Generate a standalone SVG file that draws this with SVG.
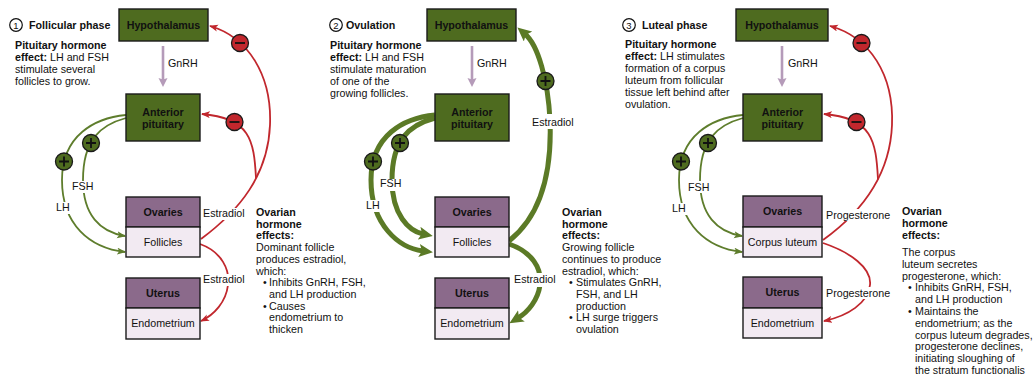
<svg xmlns="http://www.w3.org/2000/svg" width="1035" height="379" viewBox="0 0 1035 379">
<defs>
<style>
text{font-family:"Liberation Sans",Arial,Helvetica,sans-serif;font-size:10.7px;fill:#111}
.b{font-weight:bold}
.c{text-anchor:middle}
.hyp{fill:#4e6b1f;stroke:#1a1a1a;stroke-width:1.4}
.ovh{fill:#8b6a8b;stroke:#1a1a1a;stroke-width:1.4}
.ovl{fill:#f2eaf2;stroke:#1a1a1a;stroke-width:1.4}
.red{fill:none;stroke:#c1272d;stroke-width:1.8;marker-end:url(#ar)}
.redn{fill:none;stroke:#c1272d;stroke-width:1.8}
.grn{fill:none;stroke:#5e7d2c;stroke-width:1.8;marker-end:url(#ag)}
.gth{fill:none;stroke:#5b7a26;stroke-width:5;marker-end:url(#agt)}
.gnrh{stroke:#b59bb9;stroke-width:2.6;marker-end:url(#ap)}
.plus{fill:#4e6b1f;stroke:#1a1a1a;stroke-width:1.3}
.minus{fill:#c1272d;stroke:#1a1a1a;stroke-width:1.3}
.sg{stroke:#111;stroke-width:1.8}
.bg{fill:#fff}
.num{fill:#fff;stroke:#111;stroke-width:1.2}
</style>
<marker id="ar" markerUnits="userSpaceOnUse" markerWidth="10" markerHeight="8" refX="8" refY="3.5" orient="auto"><path d="M0,0 L9,3.5 L0,7 L2.2,3.5 z" fill="#c1272d"/></marker>
<marker id="ag" markerUnits="userSpaceOnUse" markerWidth="10" markerHeight="8" refX="8" refY="3.5" orient="auto"><path d="M0,0 L9,3.5 L0,7 L2.2,3.5 z" fill="#5e7d2c"/></marker>
<marker id="agt" markerUnits="userSpaceOnUse" markerWidth="16" markerHeight="14" refX="4" refY="6.5" orient="auto"><path d="M0,0 L14,6.5 L0,13 L3,6.5 z" fill="#5b7a26"/></marker>
<marker id="ap" markerUnits="userSpaceOnUse" markerWidth="10" markerHeight="10" refX="2" refY="4.5" orient="auto"><path d="M0,0 L9,4.5 L0,9 L1.5,4.5 z" fill="#b59bb9"/></marker>
<g id="plusSym"><circle class="plus" r="8.5"/><path class="sg" d="M-5,0 H5 M0,-5 V5"/></g>
<g id="minusSym"><circle class="minus" r="8.5"/><path class="sg" d="M-5,0 H5"/></g>
</defs>
<rect width="1035" height="379" fill="#fff"/>

<!-- Connectors -->
<g id="connectors">
  <!-- panel 1 -->
  <line class="gnrh" x1="163" y1="46" x2="163" y2="80"/>
  <path class="red" d="M201,239 C240,210 268,175 270,125 C272,75 248,37 210,26"/>
  <path class="red" d="M256,178 C254,140 250,118 202,114"/>
  <path class="red" d="M200,244 C222,252 230,270 228,285 C226,302 214,315 201,321"/>
  <path class="grn" d="M126,115 C95,118 62,135 62,180 C62,225 90,248 125,252"/>
  <path class="grn" d="M126,118 C100,125 83,140 83,180 C83,215 100,232 125,236"/>
  <!-- panel 2 -->
  <line class="gnrh" x1="472" y1="46" x2="472" y2="80"/>
  <path class="gth" d="M509,241 C542,215 552,170 550,120 C548,80 538,45 525,34"/>
  <path class="gth" d="M509,244 C532,252 542,268 540,285 C538,300 528,312 518,318"/>
  <path class="gth" d="M435,115 C404,118 371,135 371,180 C371,225 399,248 423,251"/>
  <path class="gth" d="M435,118 C409,125 392,140 392,180 C392,215 409,231 423,234"/>
  <!-- panel 3 -->
  <line class="gnrh" x1="782" y1="46" x2="782" y2="80"/>
  <path class="red" d="M823,240 C862,212 890,176 892,125 C894,75 870,37 830,26"/>
  <path class="red" d="M878,179.5 C876,140 872,118 824,114"/>
  <path class="red" d="M823,243 C850,252 872,268 870,285 C868,303 848,316 824,321"/>
  <path class="grn" d="M743,115 C712,118 679,135 679,180 C679,225 707,248 742,252"/>
  <path class="grn" d="M743,118 C717,125 700,140 700,180 C700,215 717,232 742,236"/>
</g>

<!-- feedback signs -->
<g id="signs">
  <use href="#minusSym" x="240" y="43"/>
  <use href="#minusSym" x="234.5" y="122"/>
  <use href="#plusSym" x="64" y="161.5"/>
  <use href="#plusSym" x="91" y="143"/>
  <use href="#plusSym" x="545.5" y="81"/>
  <use href="#plusSym" x="373" y="161.5"/>
  <use href="#plusSym" x="400" y="143"/>
  <use href="#minusSym" x="861.5" y="43"/>
  <use href="#minusSym" x="856.5" y="122"/>
  <use href="#plusSym" x="681" y="161.5"/>
  <use href="#plusSym" x="708" y="143"/>
</g>

<!-- connector labels -->
<g id="labels">
  <text x="168" y="67">GnRH</text>
  <rect class="bg" x="202" y="208" width="44" height="12"/><text x="203" y="217">Estradiol</text>
  <rect class="bg" x="202" y="274" width="44" height="12"/><text x="203" y="283">Estradiol</text>
  <rect class="bg" x="71" y="181" width="23" height="12"/><text x="72" y="190">FSH</text>
  <rect class="bg" x="55" y="202" width="16" height="12"/><text x="56" y="211">LH</text>

  <text x="477" y="67">GnRH</text>
  <rect class="bg" x="530" y="114" width="46" height="15"/><text x="532" y="126">Estradiol</text>
  <rect class="bg" x="512" y="273" width="45" height="14"/><text x="514" y="283">Estradiol</text>
  <rect class="bg" x="379" y="179" width="23" height="12"/><text x="380" y="187">FSH</text>
  <rect class="bg" x="365" y="200" width="16" height="12"/><text x="366" y="209">LH</text>

  <text x="788" y="67">GnRH</text>
  <rect class="bg" x="825" y="209" width="67" height="12"/><text x="826" y="219">Progesterone</text>
  <rect class="bg" x="825" y="287" width="67" height="12"/><text x="826" y="297">Progesterone</text>
  <rect class="bg" x="687" y="181" width="23" height="12"/><text x="688" y="191">FSH</text>
  <rect class="bg" x="671" y="203" width="16" height="12"/><text x="672" y="212">LH</text>
</g>

<!-- Panel 1 nodes -->
<g id="p1-hypothalamus"><rect class="hyp" x="119" y="9" width="89" height="32"/><text class="b c" x="163.5" y="29">Hypothalamus</text></g>
<g id="p1-pituitary"><rect class="hyp" x="126" y="94" width="74" height="47"/><text class="b c" x="163" y="116">Anterior</text><text class="b c" x="163" y="128">pituitary</text></g>
<g id="p1-ovaries"><rect class="ovh" x="126" y="197" width="74" height="30"/><text class="b c" x="163" y="216">Ovaries</text></g>
<g id="p1-follicles"><rect class="ovl" x="126" y="227" width="74" height="30"/><text class="c" x="163" y="246">Follicles</text></g>
<g id="p1-uterus"><rect class="ovh" x="126" y="278" width="74" height="30"/><text class="b c" x="163" y="297">Uterus</text></g>
<g id="p1-endometrium"><rect class="ovl" x="126" y="308" width="74" height="31"/><text class="c" x="163" y="327">Endometrium</text></g>

<!-- Panel 2 nodes -->
<g id="p2-hypothalamus"><rect class="hyp" x="427" y="9" width="89" height="32"/><text class="b c" x="471.5" y="29">Hypothalamus</text></g>
<g id="p2-pituitary"><rect class="hyp" x="435" y="94" width="74" height="47"/><text class="b c" x="472" y="116">Anterior</text><text class="b c" x="472" y="128">pituitary</text></g>
<g id="p2-ovaries"><rect class="ovh" x="435" y="197" width="74" height="30"/><text class="b c" x="472" y="216">Ovaries</text></g>
<g id="p2-follicles"><rect class="ovl" x="435" y="227" width="74" height="30"/><text class="c" x="472" y="246">Follicles</text></g>
<g id="p2-uterus"><rect class="ovh" x="435" y="278" width="74" height="30"/><text class="b c" x="472" y="297">Uterus</text></g>
<g id="p2-endometrium"><rect class="ovl" x="435" y="308" width="74" height="31"/><text class="c" x="472" y="327">Endometrium</text></g>

<!-- Panel 3 nodes -->
<g id="p3-hypothalamus"><rect class="hyp" x="736" y="9" width="92" height="32"/><text class="b c" x="782" y="29">Hypothalamus</text></g>
<g id="p3-pituitary"><rect class="hyp" x="743" y="94" width="79" height="47"/><text class="b c" x="782.5" y="116">Anterior</text><text class="b c" x="782.5" y="128">pituitary</text></g>
<g id="p3-ovaries"><rect class="ovh" x="743" y="196" width="79" height="31"/><text class="b c" x="782.5" y="215">Ovaries</text></g>
<g id="p3-corpus"><rect class="ovl" x="743" y="227" width="79" height="30"/><text class="c" x="782.5" y="246">Corpus luteum</text></g>
<g id="p3-uterus"><rect class="ovh" x="743" y="277" width="79" height="31"/><text class="b c" x="782.5" y="296">Uterus</text></g>
<g id="p3-endometrium"><rect class="ovl" x="743" y="308" width="79" height="30"/><text class="c" x="782.5" y="327">Endometrium</text></g>

<!-- Panel 1 text -->
<g id="p1-text">
  <circle class="num" cx="16" cy="25" r="6.3"/><text class="c" x="16" y="28.6" style="font-size:9.5px">1</text>
  <text class="b" x="29" y="29">Follicular phase</text>
  <text x="15" y="49"><tspan class="b">Pituitary hormone</tspan></text>
  <text x="15" y="61"><tspan class="b">effect:</tspan> LH and FSH</text>
  <text x="15" y="73">stimulate several</text>
  <text x="15" y="85">follicles to grow.</text>
  <text class="b" x="256" y="216">Ovarian</text>
  <text class="b" x="256" y="227.7">hormone</text>
  <text class="b" x="256" y="239.4">effects:</text>
  <text x="256" y="251.1">Dominant follicle</text>
  <text x="256" y="262.8">produces estradiol,</text>
  <text x="256" y="274.5">which:</text>
  <text x="263" y="286.2">•</text><text x="269" y="286.2">Inhibits GnRH, FSH,</text>
  <text x="269" y="297.9">and LH production</text>
  <text x="263" y="309.6">•</text><text x="269" y="309.6">Causes</text>
  <text x="269" y="321.3">endometrium to</text>
  <text x="269" y="333">thicken</text>
</g>

<!-- Panel 2 text -->
<g id="p2-text">
  <circle class="num" cx="336" cy="25" r="6.3"/><text class="c" x="336" y="28.6" style="font-size:9.5px">2</text>
  <text class="b" x="346" y="29">Ovulation</text>
  <text x="330" y="49"><tspan class="b">Pituitary hormone</tspan></text>
  <text x="330" y="61"><tspan class="b">effect:</tspan> LH and FSH</text>
  <text x="330" y="73">stimulate maturation</text>
  <text x="330" y="85">of one of the</text>
  <text x="330" y="97">growing follicles.</text>
  <text class="b" x="562" y="216">Ovarian</text>
  <text class="b" x="562" y="227.7">hormone</text>
  <text class="b" x="562" y="239.4">effects:</text>
  <text x="562" y="251.1">Growing follicle</text>
  <text x="562" y="262.8">continues to produce</text>
  <text x="562" y="274.5">estradiol, which:</text>
  <text x="569" y="286.2">•</text><text x="576" y="286.2">Stimulates GnRH,</text>
  <text x="576" y="297.9">FSH, and LH</text>
  <text x="576" y="309.6">production</text>
  <text x="569" y="321.3">•</text><text x="576" y="321.3">LH surge triggers</text>
  <text x="576" y="333">ovulation</text>
</g>

<!-- Panel 3 text -->
<g id="p3-text">
  <circle class="num" cx="629" cy="25" r="6.3"/><text class="c" x="629" y="28.6" style="font-size:9.5px">3</text>
  <text class="b" x="642" y="29">Luteal phase</text>
  <text x="625" y="48"><tspan class="b">Pituitary hormone</tspan></text>
  <text x="625" y="60"><tspan class="b">effect:</tspan> LH stimulates</text>
  <text x="625" y="72">formation of a corpus</text>
  <text x="625" y="84">luteum from follicular</text>
  <text x="625" y="96">tissue left behind after</text>
  <text x="625" y="108">ovulation.</text>
  <text class="b" x="902" y="215">Ovarian</text>
  <text class="b" x="902" y="227">hormone</text>
  <text class="b" x="902" y="239">effects:</text>
  <text x="902" y="256">The corpus</text>
  <text x="902" y="267.8">luteum secretes</text>
  <text x="902" y="279.6">progesterone, which:</text>
  <text x="908" y="291.4">•</text><text x="915" y="291.4">Inhibits GnRH, FSH,</text>
  <text x="915" y="303.2">and LH production</text>
  <text x="908" y="315">•</text><text x="915" y="315">Maintains the</text>
  <text x="915" y="326.8">endometrium; as the</text>
  <text x="915" y="338.6">corpus luteum degrades,</text>
  <text x="915" y="350.4">progesterone declines,</text>
  <text x="915" y="362.2">initiating sloughing of</text>
  <text x="915" y="374">the stratum functionalis</text>
</g>
</svg>
